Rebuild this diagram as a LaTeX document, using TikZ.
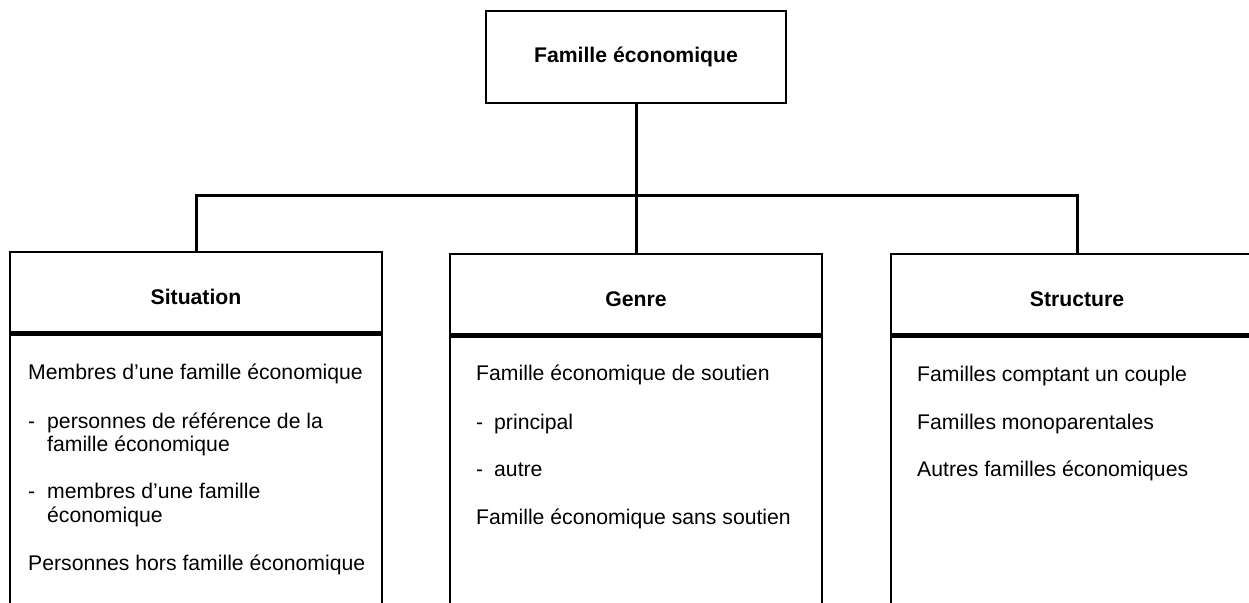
\documentclass[tikz,border=0pt]{standalone}
\usepackage{fontspec}
\setmainfont{Liberation Sans}
\begin{document}
\begin{tikzpicture}[x=1pt,y=-1pt,
  every node/.style={font=\fontsize{21.2}{24}\selectfont},
  box/.style={draw, line width=2.8pt, inner sep=0pt, minimum width=372pt},
  headbox/.style={box, minimum height=80pt, font=\fontsize{21.2}{24}\selectfont\bfseries, text height=25pt, text depth=0pt},
  bodybox/.style={box, minimum height=320pt, anchor=north},
  item/.style={anchor=base west, inner sep=0pt},
  link/.style={line width=3pt}]
\useasboundingbox (0,0) rectangle (1249,602);
\begin{scope}
\clip (0,0) rectangle (1249,602);
% root
\node[box, minimum width=300pt, minimum height=92pt, font=\fontsize{21.2}{24}\selectfont\bfseries] (root) at (636,57) {Famille économique};
% three category boxes: header + body
\node[headbox] (sit) at (196,292) {Situation};
\node[bodybox] (sitb) at (sit.south) {};
\node[headbox] (gen) at (636,294) {Genre};
\node[bodybox] (genb) at (gen.south) {};
\node[headbox] (str) at (1077,294) {Structure};
\node[bodybox] (strb) at (str.south) {};
% connectors
\coordinate (bar) at (636,195);
\draw[link] (root.south) -- (gen.north);
\draw[link] (sit.north) |- (bar) -| (str.north);
% Situation items
\node[item] (s1) at (28,379) {Membres d’une famille économique};
\node[item] (s2d) at (28,428) {-};
\node[item] (s2) at (47,428) {personnes de référence de la};
\node[item] (s2b) at (47,451.5) {famille économique};
\node[item] (s3d) at (28,498) {-};
\node[item] (s3) at (47,498) {membres d’une famille};
\node[item] (s3b) at (47,522) {économique};
\node[item] (s4) at (28,570) {Personnes hors famille économique};
% Genre items
\node[item] (g1) at (476,380) {Famille économique de soutien};
\node[item] (g2d) at (476,429) {-};
\node[item] (g2) at (494,429) {principal};
\node[item] (g3d) at (476,476) {-};
\node[item] (g3) at (494,476) {autre};
\node[item] (g4) at (476,524) {Famille économique sans soutien};
% Structure items
\node[item] (t1) at (917,381) {Familles comptant un couple};
\node[item] (t2) at (917,429) {Familles monoparentales};
\node[item] (t3) at (917,476.5) {Autres familles économiques};
\end{scope}
\end{tikzpicture}
\end{document}
